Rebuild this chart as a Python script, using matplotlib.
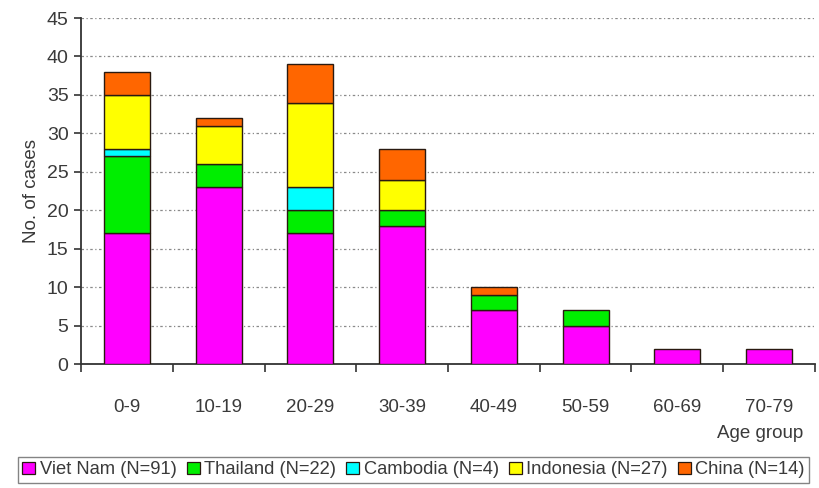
import matplotlib
matplotlib.use("Agg")
import matplotlib.pyplot as plt
import numpy as np
from matplotlib.patches import Patch

plt.rcParams['font.family'] = ['Liberation Sans', 'DejaVu Sans']

age_groups = ["0-9", "10-19", "20-29", "30-39", "40-49", "50-59", "60-69", "70-79"]
countries = ["Viet Nam (N=91)", "Thailand (N=22)", "Cambodia (N=4)",
             "Indonesia (N=27)", "China (N=14)"]
viet_nam = [17, 23, 17, 18, 7, 5, 2, 2]
thailand = [10, 3, 3, 2, 2, 2, 0, 0]
cambodia = [1, 0, 3, 0, 0, 0, 0, 0]
indonesia = [7, 5, 11, 4, 0, 0, 0, 0]
china = [3, 1, 5, 4, 1, 0, 0, 0]
colors = ["#ff00ff", "#00ee00", "#00ffff", "#ffff00", "#ff6600"]

series = [viet_nam, thailand, cambodia, indonesia, china]

fig = plt.figure(figsize=(8.19, 4.88), dpi=100)
ax = fig.add_axes([0.099, 0.254, 0.896, 0.709])

x = np.arange(len(age_groups))
bottom = np.zeros(len(age_groups))
for vals, col in zip(series, colors):
    v = np.array(vals, dtype=float)
    mask = v > 0
    ax.bar(x[mask], v[mask], width=0.5, bottom=bottom[mask], color=col,
           edgecolor="#2a1a10", linewidth=1.0, zorder=3)
    bottom += v

ax.set_xlim(-0.5, len(age_groups) - 0.5)
ax.set_ylim(0, 45)
ax.set_yticks(range(0, 46, 5))
ax.yaxis.grid(True, linestyle=(0, (2, 2, 1, 2)), color="#8a8a8a", linewidth=0.9, zorder=0)

# category boundary ticks on x axis, labels centred under bars
ax.set_xticks(np.arange(-0.5, len(age_groups), 1.0))
ax.set_xticklabels([])
ax.set_xticks(x, minor=True)
ax.set_xticklabels(age_groups, minor=True)
ax.tick_params(axis="x", which="major", direction="out", length=6, width=1.2, color="#333333")
ax.tick_params(axis="x", which="minor", length=0, pad=25, labelsize=13.5, labelcolor="#3a3a3a")
ax.tick_params(axis="y", direction="out", length=5, width=1.2, color="#333333",
               labelsize=14, labelcolor="#3a3a3a", pad=4)

for s in ["top", "right"]:
    ax.spines[s].set_visible(False)
for s in ["left", "bottom"]:
    ax.spines[s].set_color("#333333")
    ax.spines[s].set_linewidth(1.3)

ax.set_ylabel("No. of cases", fontsize=13.5, color="#3a3a3a", labelpad=5)
fig.text(0.928, 0.112, "Age group", fontsize=13.5, color="#3a3a3a", ha="center", va="center")

handles = [Patch(facecolor=c, edgecolor="#2a1a10", linewidth=0.9) for c in colors]
leg = fig.legend(handles, countries, loc="center", bbox_to_anchor=(0.505, 0.037),
                 ncol=5, fontsize=13.2, frameon=True, fancybox=False,
                 edgecolor="#666666", handlelength=0.7, handleheight=0.7,
                 handletextpad=0.25, columnspacing=0.55, borderpad=0.25,
                 borderaxespad=0)
for t in leg.get_texts():
    t.set_color("#3a3a3a")
leg.get_frame().set_linewidth(1.0)

fig.savefig("out.png", dpi=100)
